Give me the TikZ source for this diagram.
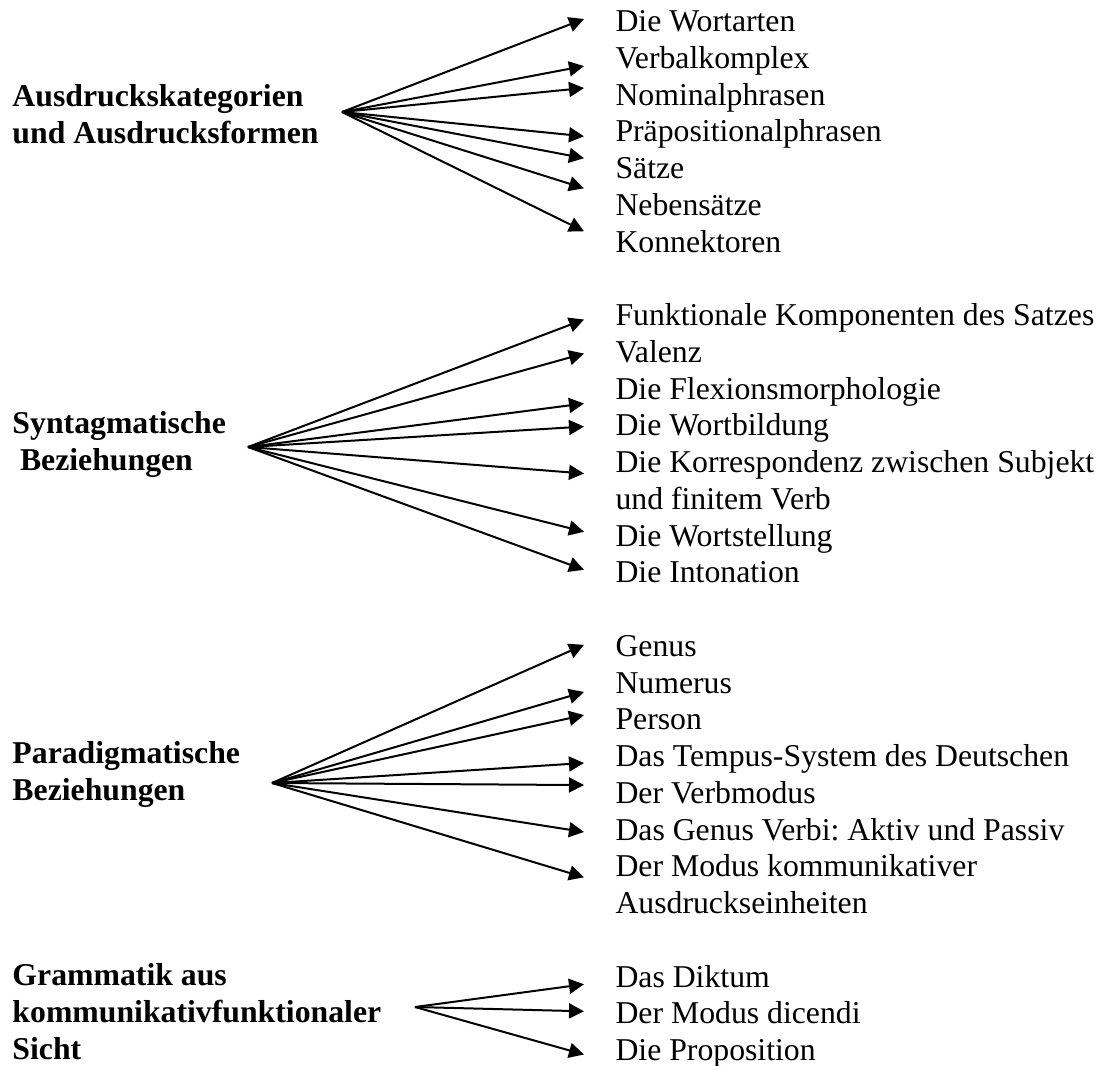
\documentclass[tikz,border=0pt]{standalone}
\usepackage{fontspec}
\setmainfont{Liberation Serif}
\frenchspacing
\usetikzlibrary{arrows.meta}
\tikzstyle{head} = [anchor=west, align=left, inner sep=0pt, font=\fontsize{12.7}{14.8}\selectfont\bfseries]
\tikzstyle{item} = [anchor=west, inner xsep=12.4pt, inner ysep=0pt, text height=8.4pt, text depth=0pt, font=\fontsize{12.7}{14.7}\selectfont]
\tikzstyle{arrow} = [line width=0.8pt, -{Triangle[length=6pt,width=6pt]}]

\begin{document}
\begin{tikzpicture}[x=0.4pt, y=-0.4pt]
    \useasboundingbox (0,0) rectangle (1106,1066);
    % Ausdruckskategorien
    \node (ausdruck) [head] at (12,114) {Ausdruckskategorien\\und Ausdrucksformen};
    \coordinate (fan1) at (342,112);
    \node (wortarten) [item] at (584,21) {Die Wortarten};
    \node (verbal) [item] at (584,57.8) {Verbalkomplex};
    \node (nominal) [item] at (584,94.5) {Nominalphrasen};
    \node (praep) [item] at (584,131.3) {Präpositionalphrasen};
    \node (saetze) [item] at (584,168) {Sätze};
    \node (neben) [item] at (584,204.8) {Nebensätze};
    \node (konn) [item] at (584,241.5) {Konnektoren};
    % Syntagmatische Beziehungen
    \node (syntagm) [head] at (12,444) {Syntagmatische\\\hspace*{3pt}Beziehungen};
    \coordinate (fan2) at (248,447);
    \node (funkt) [item] at (584,315) {Funktionale Komponenten des Satzes};
    \node (valenz) [item] at (584,351.8) {Valenz};
    \node (flexion) [item] at (584,388.5) {Die Flexionsmorphologie};
    \node (wortbild) [item] at (584,425.3) {Die Wortbildung};
    \node (korresp) [item] at (584,462) {Die Korrespondenz zwischen Subjekt};
    \node (finit) [item] at (584,498.8) {und finitem Verb};
    \node (wortstell) [item] at (584,535.5) {Die Wortstellung};
    \node (inton) [item] at (584,572.3) {Die Intonation};
    % Paradigmatische Beziehungen
    \node (paradigm) [head] at (12,774) {Paradigmatische\\Beziehungen};
    \coordinate (fan3) at (272,783);
    \node (genus) [item] at (584,645.8) {Genus};
    \node (numerus) [item] at (584,682.5) {Numerus};
    \node (person) [item] at (584,719.3) {Person};
    \node (tempus) [item] at (584,756) {Das Tempus-System des Deutschen};
    \node (verbmod) [item] at (584,792.8) {Der Verbmodus};
    \node (genverb) [item] at (584,829.5) {Das Genus Verbi: Aktiv und Passiv};
    \node (modkomm) [item] at (584,866.3) {Der Modus kommunikativer};
    \node (einheit) [item] at (584,903) {Ausdruckseinheiten};
    % Grammatik aus kommunikativfunktionaler Sicht
    \node (grammatik) [head] at (12,1012) {Grammatik aus\\kommunikativfunktionaler\\Sicht};
    \coordinate (fan4) at (415,1007);
    \node (diktum) [item] at (584,976.5) {Das Diktum};
    \node (dicendi) [item] at (584,1013.3) {Der Modus dicendi};
    \node (propos) [item] at (584,1050) {Die Proposition};
    % arrows
    \foreach \n/\dy in {wortarten/0.8, verbal/-3.3, nominal/2.6, praep/-2, saetze/3.9, neben/6.6, konn/4.1}
        \draw [arrow] (fan1) -- ([yshift=\dy pt]\n.west);
    \foreach \n/\dy in {funkt/-1.8, valenz/-0.7, flexion/-6, wortbild/-0.5, korresp/-4.6, wortstell/1.5, inton/1}
        \draw [arrow] (fan2) -- ([yshift=\dy pt]\n.west);
    \foreach \n/\dy in {genus/0.4, numerus/-3.8, person/1.7, tempus/-2.8, verbmod/3.1, genverb/-1, modkomm/-4.4}
        \draw [arrow] (fan3) -- ([yshift=\dy pt]\n.west);
    \foreach \n/\dy in {diktum/-3.1, dicendi/0.8, propos/-1.8}
        \draw [arrow] (fan4) -- ([yshift=\dy pt]\n.west);
\end{tikzpicture}
\end{document}
